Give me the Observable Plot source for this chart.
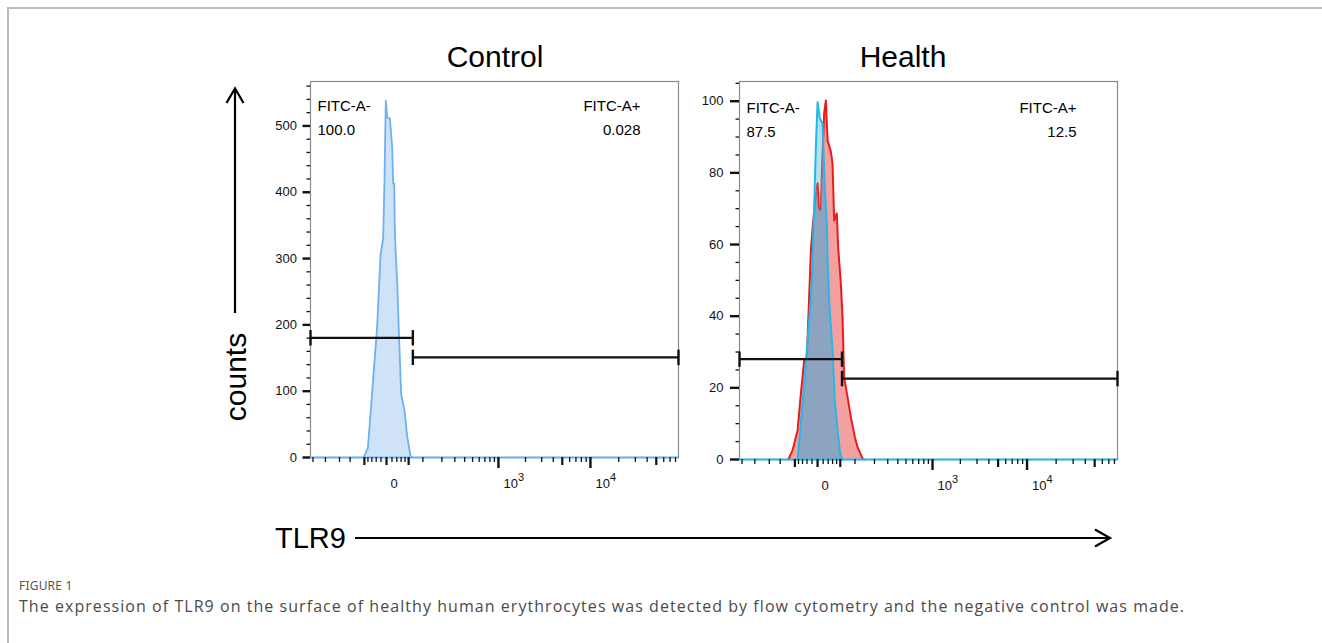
<!DOCTYPE html>
<html><head><meta charset="utf-8">
<script src="https://cdn.jsdelivr.net/npm/d3@7"></script>
<script src="https://cdn.jsdelivr.net/npm/@observablehq/plot@0.6"></script>
<style>
body{margin:0;background:#fff;width:1322px;height:643px;overflow:hidden;position:relative;font-family:"Liberation Sans",Arial,sans-serif;}
.frame{position:absolute;left:7px;top:7px;width:1400px;height:700px;border-top:2px solid #bdbdbd;border-left:2px solid #bdbdbd;}
.t{position:absolute;white-space:nowrap;color:#000;line-height:1;}
.c{transform:translate(-50%,-50%);}
#p1{position:absolute;left:250px;top:60px;}
#p2{position:absolute;left:680px;top:60px;}
#deco{position:absolute;left:0;top:0;}
.fig{position:absolute;left:19px;top:577px;font-family:"Noto Sans","Open Sans",sans-serif;font-size:12px;letter-spacing:0.2px;color:#555;}
.cap{position:absolute;left:19px;top:595px;font-family:"Open Sans","Noto Sans",sans-serif;font-size:16px;letter-spacing:1.05px;color:#4a4a4a;white-space:nowrap;}
</style></head>
<body>
<div class="frame"></div>
<div class="t c" style="left:495px;top:57px;font-size:30px;" id="title1"></div>
<div class="t c" style="left:903px;top:57px;font-size:30px;" id="title2"></div>
<div id="p1"></div>
<div id="p2"></div>
<svg id="deco" width="1322" height="643">
  <g stroke="#000" stroke-width="2.2" fill="none">
    <line x1="235" y1="313" x2="235" y2="89"/>
    <polyline points="226.5,103 235,88.5 243.5,103"/>
    <line x1="355" y1="538" x2="1109" y2="538"/>
    <polyline points="1095,529.5 1110,538 1095,546.5"/>
  </g>
  <text x="235" y="377" transform="rotate(-90 235 377)" text-anchor="middle" dominant-baseline="central" font-size="30" font-family="Liberation Sans, Arial, sans-serif" id="ylab"></text>
  <text x="275" y="538" dominant-baseline="central" font-size="29" font-family="Liberation Sans, Arial, sans-serif" id="xlab"></text>
</svg>
<div class="fig">FIGURE 1</div>
<div class="cap">The expression of TLR9 on the surface of healthy human erythrocytes was detected by flow cytometry and the negative control was made.</div>
<script>
// ---------- data ----------
const panelTitles = ["Control", "Health"];
const axisTitles = ["counts", "TLR9"];
const gateNames = ["FITC-A-", "FITC-A+"];
const controlGatePct = ["100.0", "0.028"];
const healthGatePct = ["87.5", "12.5"];

// Control panel histogram (TLR9 fluorescence, counts)
const controlX = [-52, -40, -29, -18, -11, -6, -3.5, -1.2, 1.2, 6, 10.4, 12.4, 14.5, 15.5, 17.5, 21, 24.5, 30, 38.5, 46, 55.5, 60];
const controlY = [0, 15, 101, 196, 305, 330, 418, 538, 513, 511, 468, 413, 413, 350, 310, 262, 191, 96, 71, 31, 3, 0];

// Health panel: sample (red) and negative control overlay (blue)
const healthX = [-70, -56.5, -42.4, -34, -26.1, -20.2, -12, -8, -4, 0, 2.2, 5.7, 7.5, 11.8, 15.2, 18.7, 25.9, 29.8, 33.7, 40.5, 44, 51.5, 56.5, 61.4, 72.4, 84, 99.3, 110.5, 133, 141];
const healthY = [0, 2.6, 8.2, 18.4, 27.7, 28.6, 58.4, 66, 72, 77, 70, 69.5, 79, 96.6, 100.2, 89, 86, 82.6, 66.7, 68.7, 59.3, 49.2, 39.8, 23, 17.5, 11.9, 6.3, 3.5, 0.3, 0];
const negX = [-42.4, -34, -26.1, -18.7, -12, -8.8, -2.9, 0, 3.9, 8.8, 13.2, 17.2, 18.7, 22.1, 29.8, 35.4, 42.4, 49.5, 56.5];
const negY = [0, 10, 21.2, 33.3, 45, 55, 87.2, 99.7, 95.2, 93.8, 75.1, 65.9, 56, 44.4, 30.5, 16.5, 8.2, 1.8, 0];

const xDomain = [-376, 86000];
const controlGate = {bound: 63, yNeg: 180.5, yPos: 151};
const healthGate = {bound: 55, yNeg: 28, yPos: 22.6};

// axis ticks
const xMajor = [1000, 10000];
const xMedium = [-50, 0, 50, 5000, 50000];
const xMinor = [-350, -240, -150, -100, -40, -30, -20, -10, 10, 20, 30, 40,
  100, 200, 300, 400, 500, 600, 700, 800, 900,
  2000, 3000, 4000, 6000, 7000, 8000, 9000,
  20000, 30000, 40000, 60000, 70000, 80000];
const xLabelTicks = [0, 1000, 10000];
const xLabelBase = ["0", "10", "10"];
const xLabelExp = ["", "3", "4"];
const yMajorControl = [0, 100, 200, 300, 400, 500];
const yMinorControl = [20, 40, 60, 80, 120, 140, 160, 180, 220, 240, 260, 280, 320, 340, 360, 380, 420, 440, 460, 480, 520, 540, 560];
const yMajorHealth = [0, 20, 40, 60, 80, 100];
const yMinorHealth = [5, 10, 15, 25, 30, 35, 45, 50, 55, 65, 70, 75, 85, 90, 95, 105];

document.getElementById("title1").textContent = panelTitles[0];
document.getElementById("title2").textContent = panelTitles[1];
document.getElementById("ylab").textContent = axisTitles[0];
document.getElementById("xlab").textContent = axisTitles[1];

const zip = (xs, ys) => xs.map((x, i) => ({x, y: ys[i]}));
const vbar = {draw(ctx, size) { const h = Math.sqrt(size) / 2; ctx.moveTo(0, -h); ctx.lineTo(0, h); }};
const blank = () => "";

function xAxes() {
  return [
    Plot.axisX(xMinor, {tickSize: 5, tickFormat: blank, strokeWidth: 1.3, stroke: "#111", label: null}),
    Plot.axisX(xMedium, {tickSize: 8, tickFormat: blank, strokeWidth: 2.2, stroke: "#111", label: null}),
    Plot.axisX(xMajor, {tickSize: 11, tickFormat: blank, strokeWidth: 2.4, stroke: "#111", label: null}),
    Plot.axisX(xLabelTicks, {tickSize: 0, tickPadding: 21, dx: 5, tickFormat: d => "§" + xLabelTicks.indexOf(d), label: null, fill: "#111", textAnchor: "start"})
  ];
}
function yAxes(major, minor, tsize, pad) {
  return [
    Plot.axisY(minor, {tickSize: 3.5, tickFormat: blank, strokeWidth: 1.3, stroke: "#111", label: null}),
    Plot.axisY(major, {tickSize: tsize, tickPadding: pad, strokeWidth: 2.4, stroke: "#111", label: null, fill: "#111"})
  ];
}
function gateMarks(g) {
  const segs = [{x1: xDomain[0], x2: g.bound, y: g.yNeg}, {x1: g.bound, x2: xDomain[1], y: g.yPos}];
  const caps = segs.flatMap(s => [{x: s.x1, y: s.y}, {x: s.x2, y: s.y}]);
  return [
    Plot.ruleY(segs, {x1: "x1", x2: "x2", y: "y", stroke: "#111", strokeWidth: 2.2}),
    Plot.dot(caps, {x: "x", y: "y", symbol: vbar, r: 8.7, fill: "none", stroke: "#111", strokeWidth: 2.4})
  ];
}
function gateText(pcts, dxL, dxR, dy1, dy2) {
  const o = {text: d => d, lineAnchor: "middle", fontSize: 15, fill: "#000"};
  return [
    Plot.text([gateNames[0]], {...o, frameAnchor: "top-left", textAnchor: "start", dx: dxL, dy: dy1}),
    Plot.text([pcts[0]], {...o, frameAnchor: "top-left", textAnchor: "start", dx: dxL, dy: dy2}),
    Plot.text([gateNames[1]], {...o, frameAnchor: "top-right", textAnchor: "end", dx: dxR, dy: dy1}),
    Plot.text([pcts[1]], {...o, frameAnchor: "top-right", textAnchor: "end", dx: dxR, dy: dy2})
  ];
}
const style = {fontFamily: "Liberation Sans, Arial, sans-serif", fontSize: "13px", background: "transparent", overflow: "visible"};

// superscript tick labels: "10" + raised exponent
function fixLabels(svg) {
  const ns = "http://www.w3.org/2000/svg";
  svg.querySelectorAll("text").forEach(t => {
    const m = /^§(\d)$/.exec(t.textContent);
    if (!m) return;
    const i = +m[1];
    t.textContent = xLabelBase[i];
    if (i === 0) t.setAttribute("dx", "-1");
    if (xLabelExp[i]) {
      const s = document.createElementNS(ns, "tspan");
      s.setAttribute("dy", "-7");
      s.setAttribute("font-size", "11");
      s.textContent = xLabelExp[i];
      t.appendChild(s);
    }
  });
}

// ---------- Control panel ----------
const ctrl = zip(controlX, controlY);
const p1 = Plot.plot({
  width: 440, height: 437,
  marginLeft: 60, marginRight: 12, marginTop: 21, marginBottom: 40,
  style,
  x: {type: "symlog", constant: 70, domain: xDomain},
  y: {domain: [0, 567]},
  marks: [
    Plot.frame({stroke: "#8a8a8a", strokeWidth: 1.2}),
    Plot.areaY(ctrl, {x: "x", y: "y", fill: "#cfe3f8"}),
    Plot.lineY(ctrl, {x: "x", y: "y", stroke: "#6fb0ee", strokeWidth: 1.8}),
    Plot.ruleY([0], {stroke: "#6fb0ee", strokeWidth: 2}),
    ...gateMarks(controlGate),
    ...xAxes(),
    ...yAxes(yMajorControl, yMinorControl, 7.5, 6),
    ...gateText(controlGatePct, 7, -38, 25, 49)
  ]
});
fixLabels(p1);
document.getElementById("p1").appendChild(p1);

// ---------- Health panel ----------
const hl = zip(healthX, healthY);
const ng = zip(negX, negY);
const p2 = Plot.plot({
  width: 450, height: 439,
  marginLeft: 59, marginRight: 13, marginTop: 21, marginBottom: 40,
  style,
  x: {type: "symlog", constant: 70, domain: xDomain},
  y: {domain: [0, 105.5]},
  marks: [
    Plot.frame({stroke: "#8a8a8a", strokeWidth: 1.2}),
    Plot.areaY(hl, {x: "x", y: "y", fill: "#f3a0a0"}),
    Plot.areaY(ng, {x: "x", y: "y", fill: "#b3e1f4"}),
    Plot.lineY(hl, {x: "x", y: "y", stroke: "#ee1a1a", strokeWidth: 2}),
    Plot.areaY(ng, {x: "x", y: "y", fill: "#8192b0", fillOpacity: 0.78}),
    Plot.lineY(ng, {x: "x", y: "y", stroke: "#27b6e8", strokeWidth: 2}),
    Plot.ruleY([0], {stroke: "#27b6e8", strokeWidth: 2}),
    ...gateMarks(healthGate),
    ...xAxes(),
    ...yAxes(yMajorHealth, yMinorHealth, 9, 7),
    ...gateText(healthGatePct, 7, -41, 27, 50.5)
  ]
});
fixLabels(p2);
document.getElementById("p2").appendChild(p2);

// clip the overlap layer to the sample histogram
try {
  const areas = p2.querySelectorAll('g[aria-label="area"]');
  const redPath = areas[0].querySelector("path");
  const slatePath = areas[2].querySelector("path");
  const ns = "http://www.w3.org/2000/svg";
  const defs = document.createElementNS(ns, "defs");
  const cp = document.createElementNS(ns, "clipPath");
  cp.setAttribute("id", "redclip");
  const pth = document.createElementNS(ns, "path");
  pth.setAttribute("d", redPath.getAttribute("d"));
  cp.appendChild(pth); defs.appendChild(cp); p2.insertBefore(defs, p2.firstChild);
  slatePath.setAttribute("clip-path", "url(#redclip)");
} catch (e) { console.error(e); }
</script>
</body></html>
